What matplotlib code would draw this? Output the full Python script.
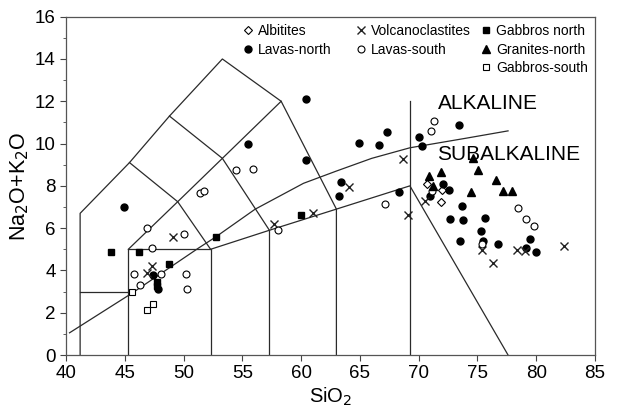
import matplotlib
matplotlib.use('Agg')
import matplotlib.pyplot as plt
from matplotlib.ticker import MultipleLocator

plt.rcParams['font.family'] = ['Liberation Sans', 'DejaVu Sans']

# --- sample data (SiO2, Na2O+K2O) ---
albitites_x = [70.7, 71.9, 72.0]
albitites_y = [8.1, 7.25, 7.8]

lavas_north_x = [44.9, 47.4, 47.8, 55.5, 60.4, 60.4, 63.4, 63.2, 64.9, 66.6, 67.3, 68.3,
                 70.0, 70.3, 73.45, 71.0, 72.1, 72.6, 73.65, 72.7, 73.8, 75.6, 75.3,
                 73.55, 75.45, 76.75, 79.45, 79.1, 80.0]
lavas_north_y = [7.0, 3.8, 3.1, 10.0, 12.1, 9.2, 8.2, 7.5, 10.05, 9.95, 10.55, 7.7,
                 10.3, 9.9, 10.9, 7.5, 8.1, 7.8, 7.05, 6.45, 6.4, 6.5, 5.85,
                 5.4, 5.4, 5.25, 5.5, 5.05, 4.85]

lavas_south_x = [46.9, 50.0, 51.4, 51.7, 47.3, 45.8, 48.05, 50.2, 46.3, 50.3, 58.0, 54.45,
                 55.9, 67.1, 71.3, 71.05, 71.1, 78.45, 79.1, 79.8, 75.35]
lavas_south_y = [6.0, 5.7, 7.65, 7.75, 5.05, 3.85, 3.85, 3.85, 3.3, 3.1, 5.9, 8.75,
                 8.8, 7.15, 11.05, 10.6, 7.75, 6.95, 6.45, 6.1, 5.25]

volcano_x = [49.1, 47.3, 46.85, 57.7, 61.0, 64.1, 68.7, 69.05, 70.5, 75.35, 76.3, 78.4, 79.0, 82.4]
volcano_y = [5.6, 4.2, 3.9, 6.2, 6.7, 7.95, 9.25, 6.6, 7.3, 4.95, 4.35, 4.95, 4.9, 5.15]

gabbros_north_x = [43.8, 46.25, 48.8, 47.7, 47.7, 52.75, 60.0]
gabbros_north_y = [4.85, 4.85, 4.3, 3.45, 3.25, 5.6, 6.6]

granites_north_x = [70.9, 71.9, 71.25, 74.6, 75.05, 76.6, 74.45, 77.2, 77.9]
granites_north_y = [8.45, 8.65, 8.0, 9.3, 8.75, 8.3, 7.7, 7.75, 7.75]

gabbros_south_x = [45.65, 46.9, 47.4]
gabbros_south_y = [3.0, 2.15, 2.4]

# --- TAS field boundaries (as drawn in the source figure) ---
tas_lines = [
    [(41.2, 0), (41.2, 6.7), (45.4, 9.1), (48.8, 11.3), (53.3, 14.0), (58.3, 12.0), (63.0, 6.9), (63.0, 0)],
    [(41.2, 3.0), (45.3, 3.0)],
    [(45.3, 0), (45.3, 5.0), (52.3, 5.0), (52.3, 0)],
    [(45.3, 5.0), (49.5, 7.25), (53.3, 9.3), (58.3, 12.0)],
    [(45.4, 9.1), (49.5, 7.25), (52.3, 5.0)],
    [(48.8, 11.3), (53.3, 9.3), (57.3, 5.9)],
    [(52.3, 5.0), (57.3, 5.9), (63.0, 6.9), (69.25, 8.0), (77.6, 0)],
    [(57.3, 0), (57.3, 5.9)],
    [(69.25, 0), (69.25, 12.0)],
]

# alkaline / subalkaline divide
divide_x = [40.3, 45.6, 49.55, 51.25, 52.7, 56.07, 60.2, 63.0, 66.0, 69.25, 74.0, 77.6]
divide_y = [1.05, 2.92, 4.41, 5.05, 5.57, 6.89, 8.12, 8.7, 9.3, 9.8, 10.25, 10.6]

fig = plt.figure(figsize=(6.21, 4.13), dpi=100)
ax = fig.add_axes([0.1063, 0.1404, 0.8519, 0.8192])

lc = '#2a2a2a'
for line in tas_lines:
    xs = [p[0] for p in line]
    ys = [p[1] for p in line]
    ax.plot(xs, ys, color=lc, lw=0.9, zorder=1)
ax.plot(divide_x, divide_y, color=lc, lw=0.9, zorder=1)

ms = 5
h_alb = ax.plot(albitites_x, albitites_y, 'D', ms=3.8, mfc='white', mec='black', mew=0.8, ls='none')[0]
h_ln = ax.plot(lavas_north_x, lavas_north_y, 'o', ms=ms, color='black', ls='none')[0]
h_vol = ax.plot(volcano_x, volcano_y, 'x', ms=6, color='#222222', mew=1.0, ls='none')[0]
h_ls = ax.plot(lavas_south_x, lavas_south_y, 'o', ms=ms, mfc='white', mec='black', mew=0.8, ls='none')[0]
h_gn = ax.plot(gabbros_north_x, gabbros_north_y, 's', ms=ms, color='black', ls='none')[0]
h_gr = ax.plot(granites_north_x, granites_north_y, '^', ms=5.5, color='black', ls='none')[0]
h_gs = ax.plot(gabbros_south_x, gabbros_south_y, 's', ms=ms, mfc='white', mec='black', mew=0.8, ls='none')[0]

ax.text(71.6, 11.9, 'ALKALINE', fontsize=15, va='center', ha='left')
ax.text(71.6, 9.5, 'SUBALKALINE', fontsize=15, va='center', ha='left')

ax.set_xlim(40, 85)
ax.set_ylim(0, 16)
ax.xaxis.set_major_locator(MultipleLocator(5))
ax.yaxis.set_major_locator(MultipleLocator(2))
ax.yaxis.set_minor_locator(MultipleLocator(1))
ax.tick_params(which='both', direction='out', top=False, right=False, labelsize=13.5, color='#444444')
ax.tick_params(which='major', length=4)
ax.tick_params(which='minor', length=2.5)
for s in ax.spines.values():
    s.set_color('#555555')
    s.set_linewidth(0.9)

ax.set_xlabel('SiO$_2$', fontsize=14.5, labelpad=2)
ax.set_ylabel('Na$_2$O+K$_2$O', fontsize=15.5, labelpad=3)

# legend in three columns
leg_kw = dict(loc='upper left', frameon=False, fontsize=10, borderpad=0, borderaxespad=0,
              handlelength=0.8, handletextpad=0.35, labelspacing=0.32)
leg1 = ax.legend([h_alb, h_ln], ['Albitites', 'Lavas-north'], bbox_to_anchor=(0.333, 0.978), **leg_kw)
ax.add_artist(leg1)
leg2 = ax.legend([h_vol, h_ls], ['Volcanoclastites', 'Lavas-south'], bbox_to_anchor=(0.547, 0.978), **leg_kw)
ax.add_artist(leg2)
ax.legend([h_gn, h_gr, h_gs], ['Gabbros north', 'Granites-north', 'Gabbros-south'],
          bbox_to_anchor=(0.783, 0.978), **leg_kw)

fig.savefig('out.png', dpi=100)
